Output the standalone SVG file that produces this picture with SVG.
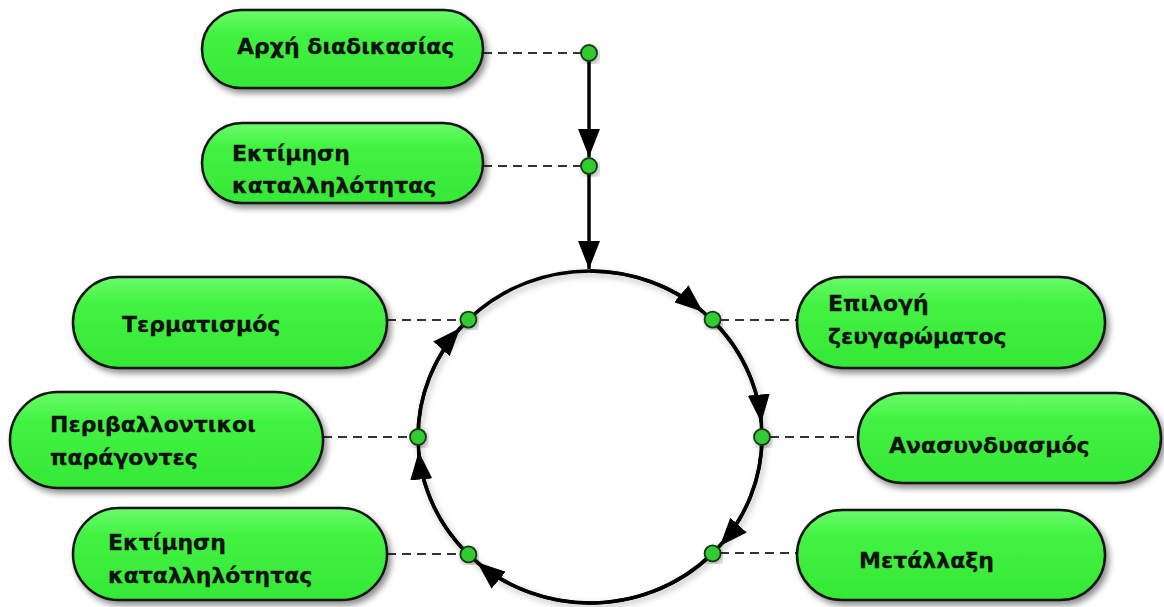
<svg xmlns="http://www.w3.org/2000/svg" width="1164" height="607" viewBox="0 0 1164 607">
<defs>
<linearGradient id="g" x1="0" y1="0" x2="0" y2="1">
<stop offset="0" stop-color="#6afb6a"/>
<stop offset="0.3" stop-color="#42f242"/>
<stop offset="1" stop-color="#36e836"/>
</linearGradient>
<filter id="sh" x="-10%" y="-20%" width="125%" height="150%">
<feDropShadow dx="3" dy="4" stdDeviation="3" flood-color="#000" flood-opacity="0.45"/>
</filter>
<filter id="sh2" x="-10%" y="-10%" width="125%" height="125%">
<feDropShadow dx="2" dy="3" stdDeviation="3" flood-color="#000" flood-opacity="0.3"/>
</filter>
<marker id="ah" viewBox="0 0 28 22" markerWidth="28" markerHeight="22" refX="28" refY="11" orient="auto" markerUnits="userSpaceOnUse">
<path d="M0,0 L28,11 L0,22 z" fill="#000"/>
</marker>
</defs>
<style>
.pill{fill:url(#g);stroke:#161616;stroke-width:2.5;filter:url(#sh)}
.t{font-family:"DejaVu Sans","Verdana",sans-serif;font-weight:bold;font-size:22px;fill:#111;stroke:#111;stroke-width:0.3}
.dash{stroke:#333;stroke-width:2;stroke-dasharray:9 6;fill:none}
.ln{stroke:#000;stroke-width:3.5;fill:none}
.dot{fill:#33cc33;stroke:#123812;stroke-width:1.8;filter:url(#sh2)}
</style>
<rect width="1164" height="607" fill="#fff"/>

<g id="connectors">
<line class="dash" x1="483" y1="53" x2="581" y2="53"/>
<line class="dash" x1="483" y1="166" x2="581" y2="166"/>
<line class="dash" x1="387" y1="320" x2="460" y2="320"/>
<line class="dash" x1="323" y1="437" x2="410" y2="437"/>
<line class="dash" x1="387" y1="554" x2="460" y2="554"/>
<line class="dash" x1="720" y1="320" x2="797" y2="320"/>
<line class="dash" x1="770" y1="437" x2="858" y2="437"/>
<line class="dash" x1="720" y1="553" x2="797" y2="553"/>
<ellipse class="ln" cx="590" cy="437" rx="172" ry="166" filter="url(#sh2)"/>
<line class="ln" x1="589" y1="53" x2="589" y2="157" marker-end="url(#ah)"/>
<line class="ln" x1="589" y1="166" x2="589" y2="269" marker-end="url(#ah)"/>
<path class="ln" d="M590,271 A172,166 0 0 1 702.8,311.7" marker-end="url(#ah)"/>
<path class="ln" d="M711.6,319.6 A172,166 0 0 1 761.3,422.5" marker-end="url(#ah)"/>
<path class="ln" d="M762,437 A172,166 0 0 1 719.8,545.9" marker-end="url(#ah)"/>
<path class="ln" d="M711.6,554.4 A172,166 0 0 1 477.2,562.3" marker-end="url(#ah)"/>
<path class="ln" d="M468.4,554.4 A172,166 0 0 1 418.7,451.5" marker-end="url(#ah)"/>
<path class="ln" d="M418,437 A172,166 0 0 1 460.2,328.1" marker-end="url(#ah)"/>
<circle class="dot" cx="589" cy="53" r="8"/>
<circle class="dot" cx="589" cy="166" r="8"/>
<circle class="dot" cx="468.4" cy="319.6" r="8"/>
<circle class="dot" cx="712.6" cy="319.6" r="8"/>
<circle class="dot" cx="418" cy="437" r="8"/>
<circle class="dot" cx="762" cy="437" r="8"/>
<circle class="dot" cx="468.4" cy="554.4" r="8"/>
<circle class="dot" cx="712.6" cy="553.4" r="8"/>
</g>

<g id="n-start">
<rect class="pill" x="202" y="10" width="281" height="78" rx="39"/>
<text class="t" x="237" y="54">Αρχή διαδικασίας</text>
</g>
<g id="n-fitness1">
<rect class="pill" x="202" y="123" width="281" height="80" rx="40"/>
<text class="t" x="232" y="161">Εκτίμηση</text>
<text class="t" x="232" y="193">καταλληλότητας</text>
</g>
<g id="n-term">
<rect class="pill" x="73" y="277" width="314" height="91" rx="45.5"/>
<text class="t" x="122" y="332">Τερματισμός</text>
</g>
<g id="n-env">
<rect class="pill" x="10" y="392" width="313" height="96" rx="48"/>
<text class="t" x="50" y="432">Περιβαλλοντικοι</text>
<text class="t" x="50" y="465">παράγοντες</text>
</g>
<g id="n-fitness2">
<rect class="pill" x="73" y="508" width="314" height="92" rx="46"/>
<text class="t" x="108" y="550">Εκτίμηση</text>
<text class="t" x="108" y="583">καταλληλότητας</text>
</g>
<g id="n-select">
<rect class="pill" x="797" y="277" width="308" height="91" rx="45.5"/>
<text class="t" x="828" y="311">Επιλογή</text>
<text class="t" x="828" y="344">ζευγαρώματος</text>
</g>
<g id="n-cross">
<rect class="pill" x="858" y="393" width="303" height="90" rx="45"/>
<text class="t" x="889" y="453">Ανασυνδυασμός</text>
</g>
<g id="n-mut">
<rect class="pill" x="797" y="510" width="308" height="90" rx="45"/>
<text class="t" x="859" y="568">Μετάλλαξη</text>
</g>
</svg>
